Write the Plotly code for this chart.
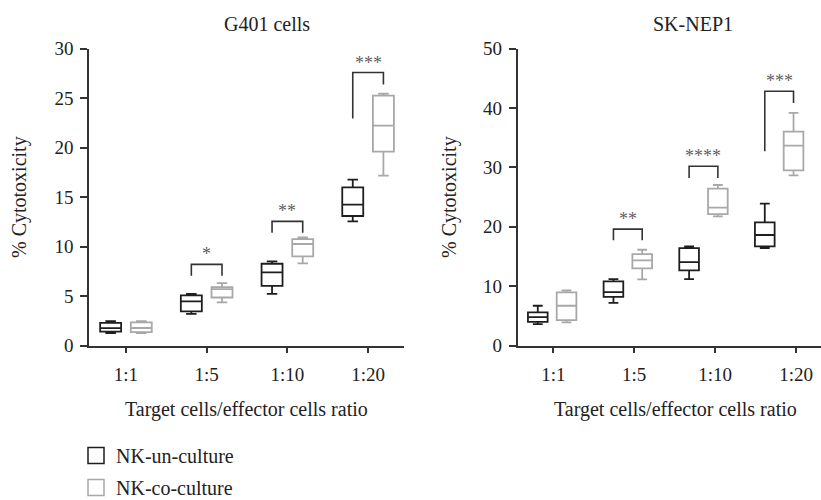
import plotly.graph_objects as go

# Effector:target ratio categories
ratios = ["1:1", "1:5", "1:10", "1:20"]

# G401 cells: box statistics (% cytotoxicity)
g401_un_low = [1.24, 3.20, 5.22, 12.54]
g401_un_q1 = [1.41, 3.44, 6.03, 13.08]
g401_un_med = [1.75, 4.45, 7.38, 14.22]
g401_un_q3 = [2.28, 5.06, 8.26, 15.98]
g401_un_high = [2.45, 5.22, 8.49, 16.75]

g401_co_low = [1.24, 4.35, 8.29, 17.16]
g401_co_q1 = [1.36, 4.85, 9.00, 19.58]
g401_co_med = [1.77, 5.70, 10.25, 22.21]
g401_co_q3 = [2.33, 5.90, 10.75, 25.24]
g401_co_high = [2.45, 6.30, 10.92, 25.45]

# SK-NEP1: box statistics (% cytotoxicity)
sk_un_low = [3.60, 7.19, 11.18, 16.40]
sk_un_q1 = [3.99, 8.20, 12.64, 16.69]
sk_un_med = [4.78, 8.99, 14.04, 18.60]
sk_un_q3 = [5.56, 10.79, 16.40, 20.73]
sk_un_high = [6.69, 11.18, 16.69, 23.88]

sk_co_low = [3.88, 11.12, 21.74, 28.65]
sk_co_q1 = [4.27, 12.98, 22.13, 29.49]
sk_co_med = [6.69, 14.33, 23.20, 33.65]
sk_co_q3 = [8.93, 15.39, 26.40, 36.01]
sk_co_high = [9.27, 16.12, 27.02, 39.16]

# Significance brackets: category index, label, top, left-leg end, right-leg end
g401_sig_idx = [1, 2, 3]
g401_sig_text = ["*", "**", "***"]
g401_sig_top = [8.19, 12.54, 27.57]
g401_sig_left = [7.04, 11.39, 22.92]
g401_sig_right = [7.04, 11.39, 26.36]

sk_sig_idx = [1, 2, 3]
sk_sig_text = ["**", "****", "***"]
sk_sig_top = [19.6, 30.17, 42.8]
sk_sig_left = [17.7, 28.2, 32.7]
sk_sig_right = [17.7, 28.2, 40.84]

W, H = 821, 500
FONT = "Liberation Serif"
DARK = "#1e1e1e"
GRAY = "#a8a8a8"
AXIS = "#333333"
OFF = 0.19
BOXW = 0.26

fig = go.Figure()


def add_boxes(xa, ya, low, q1, med, q3, high, color, name, sign):
    fig.add_trace(go.Box(
        x=[i + sign * OFF for i in range(len(ratios))],
        lowerfence=low, q1=q1, median=med, q3=q3, upperfence=high,
        width=BOXW, whiskerwidth=0.5,
        line=dict(color=color, width=1.8), fillcolor="white",
        xaxis=xa, yaxis=ya, name=name, showlegend=False, hoverinfo="skip",
    ))


add_boxes("x", "y", g401_un_low, g401_un_q1, g401_un_med, g401_un_q3, g401_un_high, DARK, "NK-un-culture", -1)
add_boxes("x", "y", g401_co_low, g401_co_q1, g401_co_med, g401_co_q3, g401_co_high, GRAY, "NK-co-culture", 1)
add_boxes("x2", "y2", sk_un_low, sk_un_q1, sk_un_med, sk_un_q3, sk_un_high, DARK, "NK-un-culture", -1)
add_boxes("x2", "y2", sk_co_low, sk_co_q1, sk_co_med, sk_co_q3, sk_co_high, GRAY, "NK-co-culture", 1)

# legend entries (open squares)
for k, (name, color) in enumerate([("NK-un-culture", DARK), ("NK-co-culture", GRAY)]):
    fig.add_trace(go.Scatter(
        x=[None], y=[None], mode="markers", name=name, legendgroup=f"g{k}",
        marker=dict(symbol="square", size=17, color="white",
                    line=dict(color=color, width=1.5)),
        xaxis="x", yaxis="y", showlegend=True,
    ))

# significance brackets and stars
def add_brackets(xr, yr, idx, texts, tops, lefts, rights):
    for i, t, top, l, r in zip(idx, texts, tops, lefts, rights):
        x0, x1 = i - OFF, i + OFF
        fig.add_shape(type="path", xref=xr, yref=yr,
                      path=f"M {x0},{l} L {x0},{top} L {x1},{top} L {x1},{r}",
                      line=dict(color="#333333", width=1.6))
        fig.add_annotation(x=i, y=top, xref=xr, yref=yr, text=t, showarrow=False,
                           yanchor="bottom", yshift=-2,
                           font=dict(family=FONT, size=18, color="#5f5f5f"))


add_brackets("x", "y", g401_sig_idx, g401_sig_text, g401_sig_top, g401_sig_left, g401_sig_right)
add_brackets("x2", "y2", sk_sig_idx, sk_sig_text, sk_sig_top, sk_sig_left, sk_sig_right)

ax_common = dict(showline=True, linecolor=AXIS, linewidth=1.5, ticks="outside",
                 tickcolor=AXIS, tickwidth=1.5, showgrid=False, zeroline=False,
                 automargin=False,
                 tickfont=dict(family=FONT, size=19, color="#222222"))

ydom = [1 - 345.5 / H, 1 - 48.5 / H]

fig.update_layout(
    width=W, height=H,
    margin=dict(l=0, r=0, t=0, b=0, autoexpand=False),
    paper_bgcolor="white", plot_bgcolor="white",
    boxmode="overlay",
    xaxis=dict(domain=[89 / W, 404 / W], range=[-0.458, 3.445],
               tickvals=[0, 1, 2, 3], ticktext=ratios, ticklen=6,
               ticklabelstandoff=5, **ax_common),
    yaxis=dict(domain=ydom, range=[0, 30], dtick=5, ticklen=7, anchor="x",
               ticklabelstandoff=3, **ax_common),
    xaxis2=dict(domain=[517.5 / W, 1.0], range=[-0.458, 3.553],
                tickvals=[0.017, 1.083, 2.153, 3.223], ticktext=ratios, ticklen=6,
                ticklabelstandoff=5, anchor="y2", **ax_common),
    yaxis2=dict(domain=ydom, range=[0, 50], dtick=10, ticklen=7, anchor="x2",
                ticklabelstandoff=3, **ax_common),
    legend=dict(x=76 / W, y=1 - 436 / H, xanchor="left", yanchor="top",
                font=dict(family=FONT, size=20, color="#222222"),
                bgcolor="rgba(0,0,0,0)", itemsizing="trace",
                traceorder="grouped", tracegroupgap=3),
)

# titles and axis labels
def paper_text(x, y, text, angle=0, size=20):
    fig.add_annotation(x=x / W, y=1 - y / H, xref="paper", yref="paper", text=text,
                       showarrow=False, textangle=angle, xanchor="center", yanchor="middle",
                       font=dict(family=FONT, size=size, color="#222222"))


paper_text(267, 24, "G401 cells")
paper_text(693, 24, "SK-NEP1")
paper_text(246.5, 409, "Target cells/effector cells ratio")
paper_text(675, 409, "Target cells/effector cells ratio")
paper_text(19, 197, "% Cytotoxicity", angle=-90)
paper_text(449, 197, "% Cytotoxicity", angle=-90)

fig.write_html("out.html")
